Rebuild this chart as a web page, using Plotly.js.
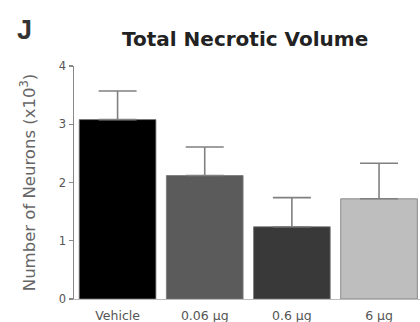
<!DOCTYPE html>
<html><head><meta charset="utf-8">
<script src="https://cdn.plot.ly/plotly-3.0.1.min.js"></script>
<style>html,body{margin:0;padding:0;background:#fff;}#c{width:420px;height:322px;}</style>
</head><body><div id="c"></div>
<script>
const categories = ["Vehicle", "0.06 µg", "0.6 µg", "6 µg"];
const values = [3.08, 2.12, 1.24, 1.72];
const errors = [0.49, 0.49, 0.50, 0.61];
const barColors = ["#000000", "#5b5b5b", "#393939", "#bebebe"];
const yTicks = [0, 1, 2, 3, 4];

const trace = {
  type: "bar", x: categories, y: values,
  marker: {color: barColors, line: {color: "#777", width: 0.8}},
  error_y: {type: "data", array: errors, arrayminus: errors.map(() => 0), symmetric: false,
            color: "#808080", thickness: 1.6, width: 19},
  width: 0.88
};
const layout = {
  width: 420, height: 322,
  margin: {l: 74, r: 0, t: 66, b: 23},
  paper_bgcolor: "#fff", plot_bgcolor: "#fff",
  showlegend: false,
  font: {family: "DejaVu Sans", color: "#555"},
  xaxis: {range: [-0.5, 3.47], showgrid: false, zeroline: false, showline: true, linecolor: "#bbb", linewidth: 1,
          ticks: "outside", ticklen: 5, tickcolor: "rgba(0,0,0,0)",
          tickfont: {family: "DejaVu Sans", size: 12.5, color: "#555"}},
  yaxis: {range: [0, 4], tickvals: yTicks, showgrid: false, zeroline: false, showline: true, linecolor: "#888",
          linewidth: 1.5, ticks: "outside", ticklen: 4, tickcolor: "#888", tickwidth: 1.2,
          tickfont: {family: "DejaVu Sans", size: 11.5, color: "#555"},
          title: {text: "Number of Neurons (x10<sup>3</sup>)", standoff: 19,
                  font: {family: "DejaVu Sans", size: 16.5, color: "#666"}}},
  annotations: [
    {text: "<b>Total Necrotic Volume</b>", xref: "paper", yref: "paper", x: (245-74)/346, y: 1 + (66-39)/233,
     xanchor: "center", yanchor: "middle", showarrow: false,
     font: {family: "DejaVu Sans", size: 20, color: "#222"}},
    {text: "<b>J</b>", xref: "paper", yref: "paper", x: (25-74)/346, y: 1 + (66-30)/233,
     xanchor: "center", yanchor: "middle", showarrow: false,
     font: {family: "Liberation Sans", size: 27, color: "#333"}}
  ]
};
Plotly.newPlot("c", [trace], layout, {displayModeBar: false, staticPlot: true});
</script></body></html>
